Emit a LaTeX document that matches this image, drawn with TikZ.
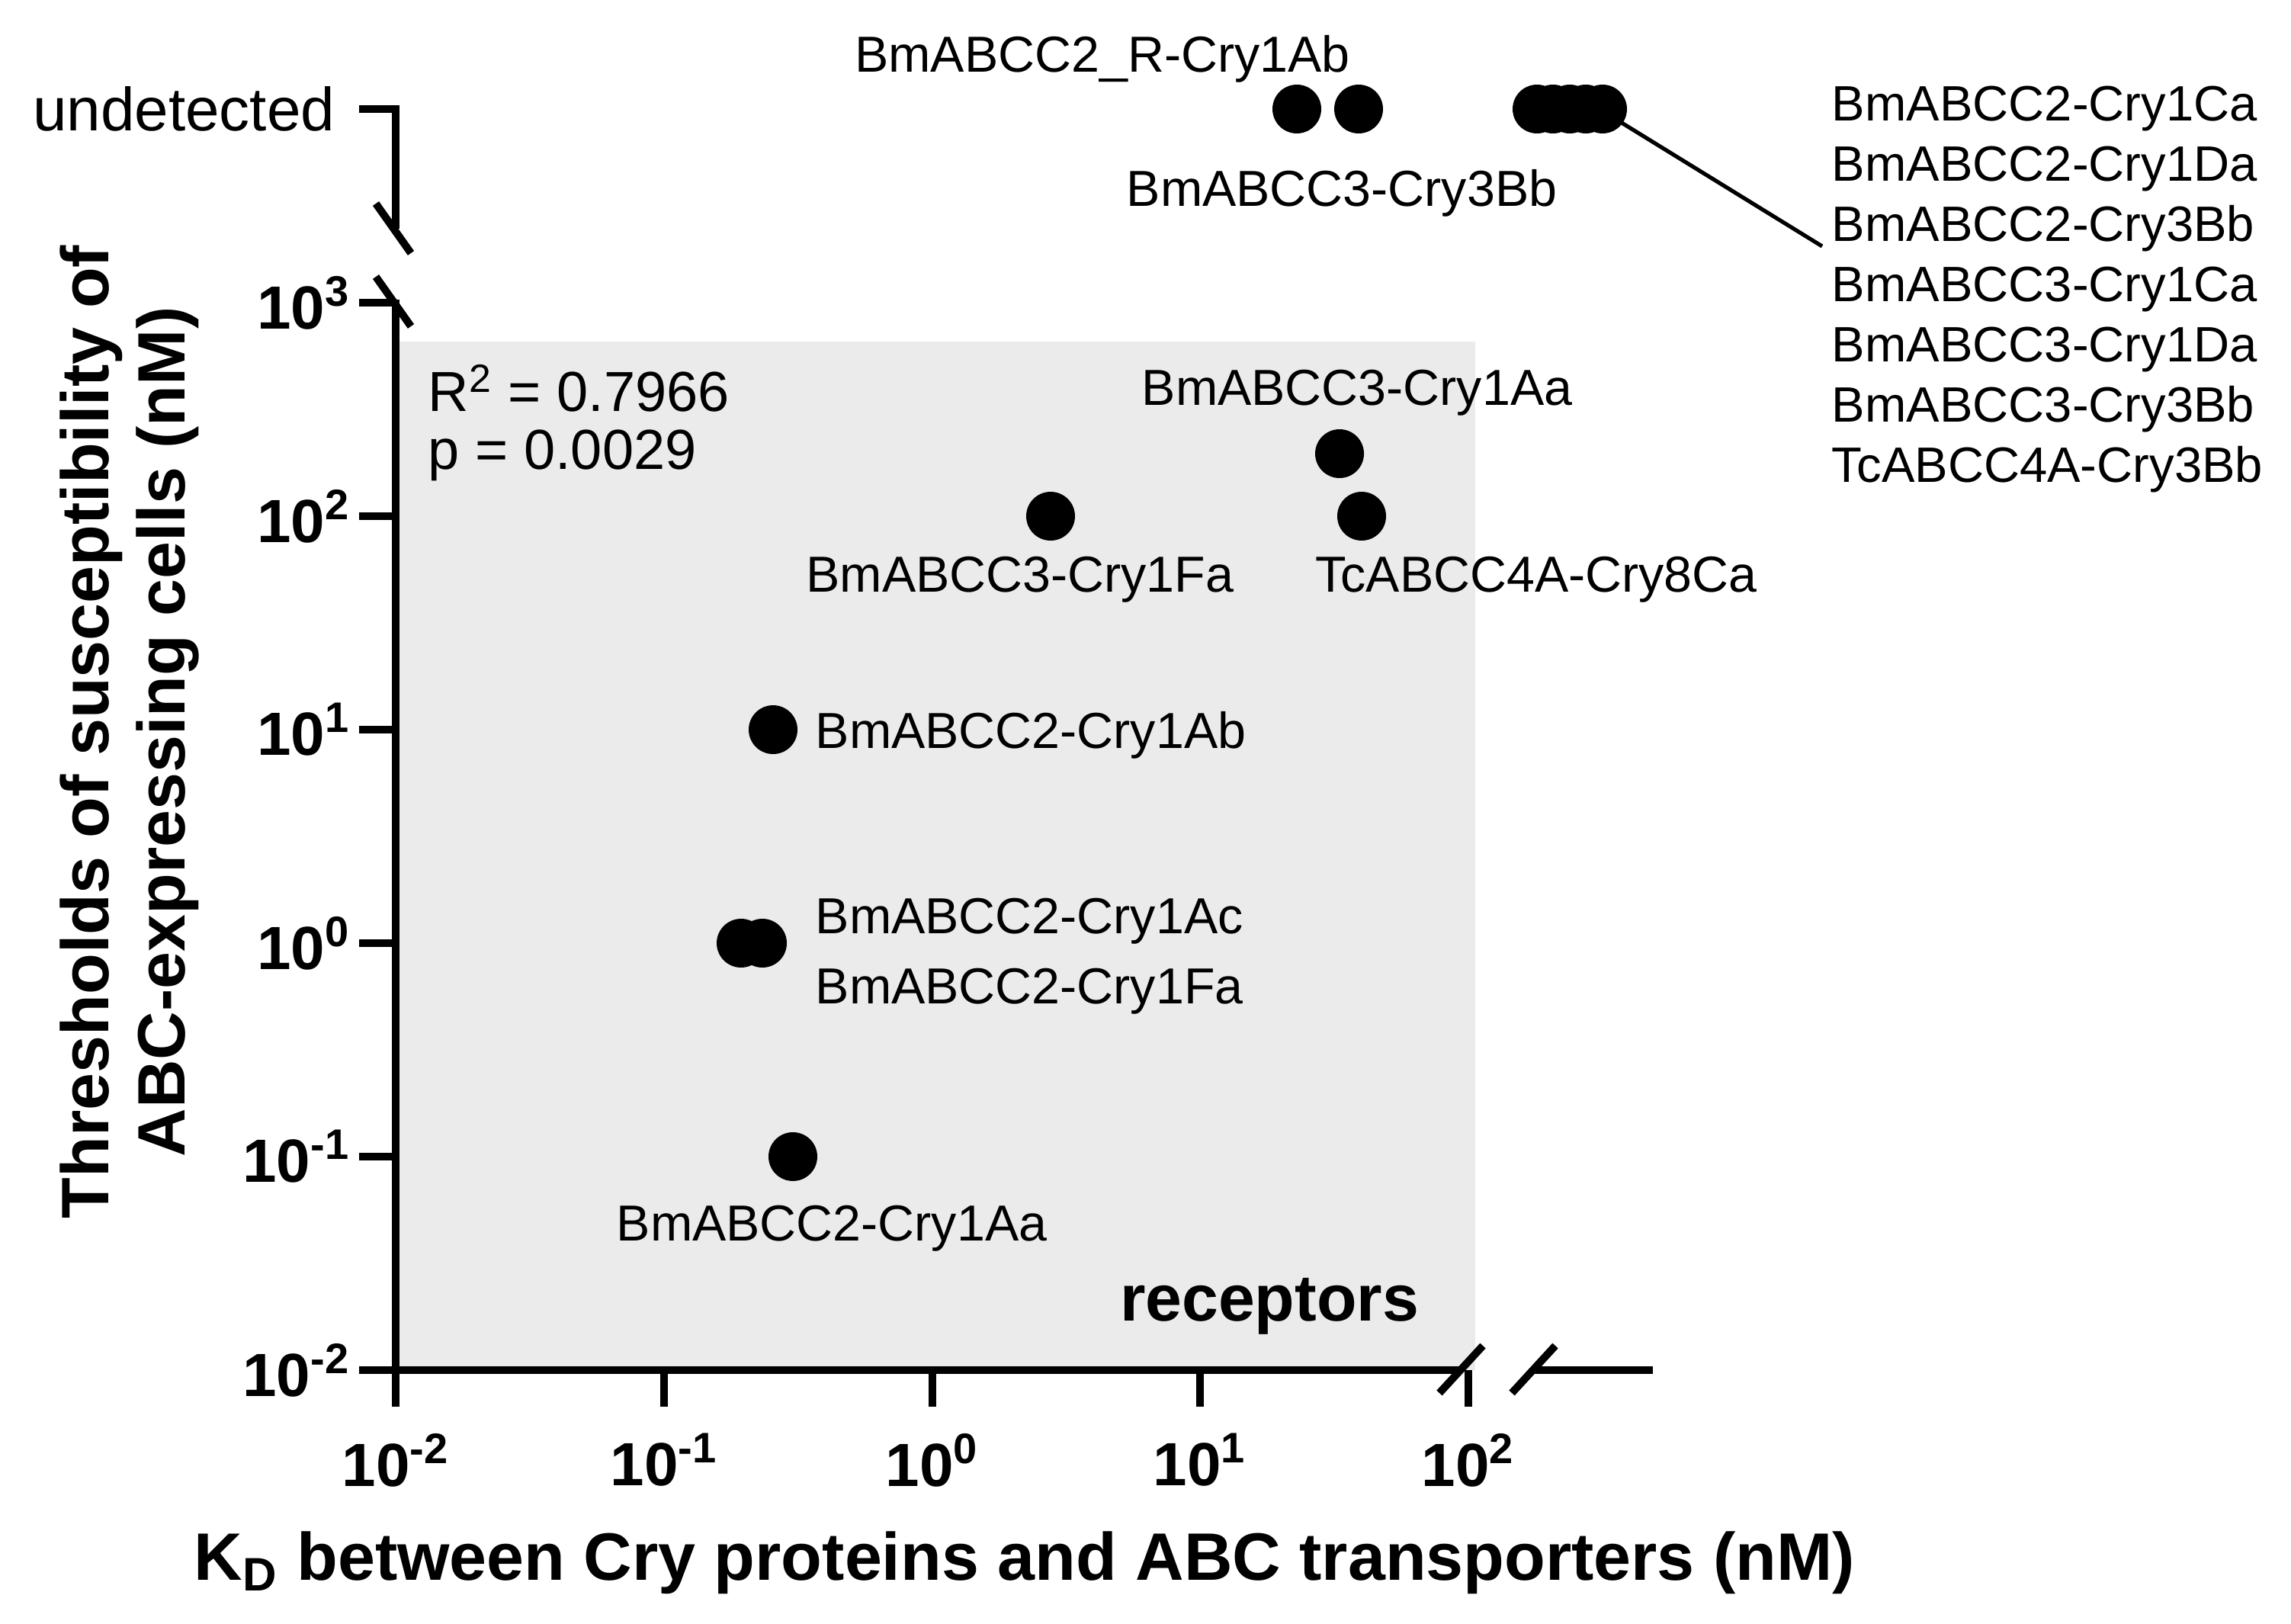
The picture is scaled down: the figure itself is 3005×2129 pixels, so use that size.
\documentclass[tikz,border=0pt]{standalone}
\usepackage{fontspec}
\setmainfont{Liberation Sans}
\begin{document}
\begin{tikzpicture}[x=0.25pt,y=-0.25pt,
  ax/.style={line width=2.5pt,line cap=butt},
  dot/.style={circle,fill=black,minimum size=16pt,inner sep=0pt},
  lab/.style={font=\fontsize{16.6}{19}\selectfont,inner sep=0pt},
  tk/.style={font=\bfseries\fontsize{20}{23}\selectfont,inner sep=0pt}]
\useasboundingbox (0,0) rectangle (3005,2129);
\fill[black!8] (519,448) rectangle (1935,1797);
% y axis
\draw[ax] (471,143) -- (519,143) -- (519,300);
\draw[ax] (493,267) -- (539,332);
\draw[ax] (493,363) -- (539,428);
\draw[ax] (519,393) -- (519,1797);
\foreach \y/\e in {397/3,677/2,957/1,1237/0,1517/-1,1797/-2}{
  \draw[ax] (471,\y) -- (519,\y);
  \node[tk,anchor=east] at (460,\y) {10\textsuperscript{\e}};}
% x axis
\draw[ax] (517,1797) -- (1915,1797);
\draw[ax] (1888,1827) -- (1945,1765);
\draw[ax] (1983,1827) -- (2040,1765);
\draw[ax] (2010,1797) -- (2168,1797);
\foreach \x/\e in {519/-2,871/-1,1223/0,1574/1,1926/2}{
  \draw[ax] (\x,1797) -- (\x,1845);
  \node[tk] at (\x,1915) {10\textsuperscript{\e}};}
% titles
\node[font=\bfseries\fontsize{22}{26}\selectfont] (xt) at (1344,2050) {K\textsubscript{D} between Cry proteins and ABC transporters (nM)};
\node[font=\bfseries\fontsize{22}{25}\selectfont,rotate=90,align=center] (yt) at (170,960) {Thresholds of susceptibility of\\ABC-expressing cells (nM)};
\node[lab,anchor=east,font=\fontsize{20}{23}\selectfont] at (440,143) {undetected};
% points
\node[dot] (u1) at (1701,143) {};
\node[dot] (u2) at (1782,143) {};
\foreach \x in {2016,2037,2059,2080} \node[dot] at (\x,143) {};
\node[dot] (u7) at (2102,143) {};
\node[dot] at (1757,595) {};
\node[dot] at (1786,677) {};
\node[dot] at (1378,677) {};
\node[dot] at (1014,957) {};
\node[dot] at (972,1237) {};
\node[dot] at (1000,1237) {};
\node[dot] at (1040,1517) {};
\coordinate (le) at (2390,323);
\draw[line width=1.3pt] (u7.center) ++(12,10) -- (le);
% labels
\node[lab] at (1446,77) {BmABCC2\_R-Cry1Ab};
\node[lab] at (1760,253) {BmABCC3-Cry3Bb};
\node[lab,anchor=north west,align=left,font=\fontsize{16.3}{19.75}\selectfont] at (2402,112) {BmABCC2-Cry1Ca\\BmABCC2-Cry1Da\\BmABCC2-Cry3Bb\\BmABCC3-Cry1Ca\\BmABCC3-Cry1Da\\BmABCC3-Cry3Bb\\TcABCC4A-Cry3Bb};
\node[lab,anchor=west,font=\fontsize{18.5}{21}\selectfont] at (561,509) {R\textsuperscript{2} = 0.7966};
\node[lab,anchor=west,font=\fontsize{18.5}{21}\selectfont] at (561,597) {p = 0.0029};
\node[lab] at (1780,515) {BmABCC3-Cry1Aa};
\node[lab] at (1338,760) {BmABCC3-Cry1Fa};
\node[lab] at (2015,760) {TcABCC4A-Cry8Ca};
\node[lab,anchor=west] at (1069,964) {BmABCC2-Cry1Ab};
\node[lab,anchor=west] at (1069,1208) {BmABCC2-Cry1Ac};
\node[lab,anchor=west] at (1069,1300) {BmABCC2-Cry1Fa};
\node[lab] at (1091,1611) {BmABCC2-Cry1Aa};
\node[font=\bfseries\fontsize{21.5}{24}\selectfont] at (1665,1713) {receptors};
\end{tikzpicture}
\end{document}
